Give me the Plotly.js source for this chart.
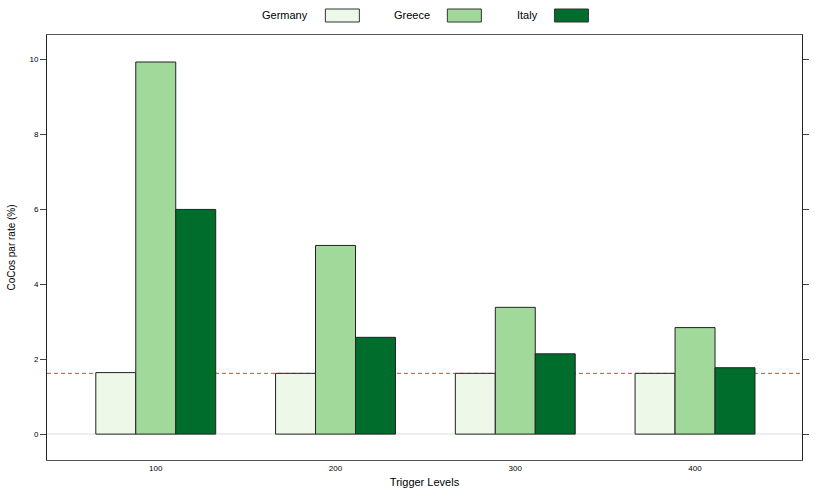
<!DOCTYPE html>
<html>
<head>
<meta charset="utf-8">
<script src="https://cdn.plot.ly/plotly-3.0.1.min.js"></script>
<style>
  html, body { margin: 0; padding: 0; background: #fff; }
  #chart { width: 830px; height: 498px; }
</style>
</head>
<body>
<div id="chart"></div>
<script>
// trigger levels on the x axis
var levels = ['100', '200', '300', '400'];
var countries = ['Germany', 'Greece', 'Italy'];
var colors = ['#edf8e9', '#a1d99b', '#006d2c'];

// CoCos par rate (%)
var germany = [1.64, 1.62, 1.62, 1.62];
var greece = [9.92, 5.03, 3.38, 2.84];
var italy = [5.99, 2.58, 2.14, 1.77];
var refLevel = 1.62; // dashed reference line

var values = [germany, greece, italy];

var traces = countries.map(function (name, i) {
    return {
        type: 'bar',
        name: name,
        x: levels,
        y: values[i],
        marker: {
            color: colors[i],
            line: { color: '#222', width: 1 }
        },
        showlegend: false
    };
});

// legend drawn by hand: label on the left, box on the right
var legendText = [0.374, 0.521, 0.65];
var legendBox = [0.392, 0.539, 0.668];
var annotations = [];
var shapes = [];
countries.forEach(function (name, i) {
    annotations.push({
        xref: 'paper', yref: 'paper',
        x: (legendText[i] * 830 - 47) / 755, y: 1 + (35 - 15.5) / 425,
        xanchor: 'right', yanchor: 'middle',
        text: name, showarrow: false,
        font: { size: 11, color: '#000' }
    });
    shapes.push({
        type: 'rect', xref: 'paper', yref: 'paper',
        x0: (legendBox[i] * 830 - 47) / 755, x1: (legendBox[i] * 830 + 34 - 47) / 755,
        y0: 1 + (35 - 22) / 425, y1: 1 + (35 - 9) / 425,
        fillcolor: colors[i],
        line: { color: '#333', width: 1 }
    });
});

// zero line and reference line
shapes.push({
    type: 'line', xref: 'paper', yref: 'y',
    x0: 0, x1: 1, y0: 0, y1: 0,
    line: { color: '#e8e8e8', width: 1.5 },
    layer: 'below'
});
shapes.push({
    type: 'line', xref: 'paper', yref: 'y',
    x0: 0, x1: 1, y0: refLevel, y1: refLevel,
    line: { color: '#f03b3b', width: 1, dash: '4px,3px' },
    layer: 'below'
});

var layout = {
    width: 830,
    height: 498,
    margin: { l: 47, r: 28, t: 35, b: 38 },
    paper_bgcolor: '#fff',
    plot_bgcolor: '#fff',
    font: { family: 'Liberation Sans, Arial, sans-serif', color: '#000' },
    barmode: 'group',
    bargap: 0.333,
    bargroupgap: 0,
    showlegend: false,
    xaxis: {
        type: 'category',
        range: [-0.605, 3.595],
        showgrid: false,
        zeroline: false,
        showline: true,
        linecolor: '#555',
        linewidth: 1,
        mirror: true,
        ticks: '',
        tickfont: { size: 8 },
        title: { text: 'Trigger Levels', font: { size: 11 }, standoff: 6 }
    },
    yaxis: {
        range: [-0.69, 10.64],
        tickvals: [0, 2, 4, 6, 8, 10],
        showgrid: false,
        zeroline: false,
        showline: true,
        linecolor: '#222',
        linewidth: 1,
        mirror: 'ticks',
        ticks: 'outside',
        ticklen: 6,
        tickcolor: '#444',
        tickfont: { size: 8 },
        title: { text: 'CoCos par rate (%)', font: { size: 10 }, standoff: 11 }
    },
    shapes: shapes,
    annotations: annotations
};

Plotly.newPlot('chart', traces, layout, { staticPlot: true });
</script>
</body>
</html>
